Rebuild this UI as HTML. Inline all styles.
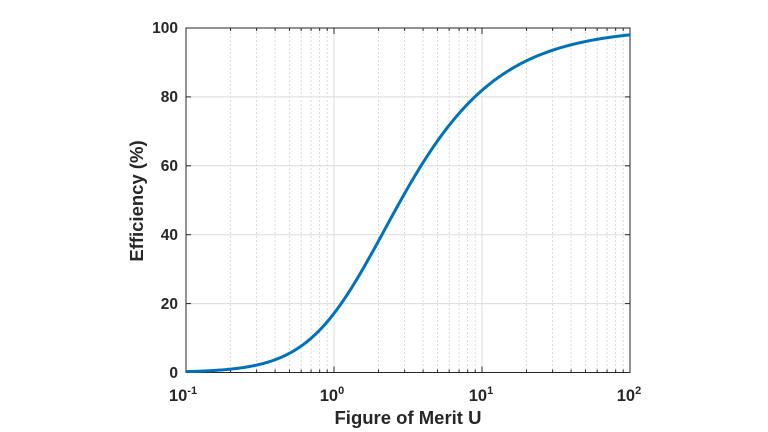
<!DOCTYPE html>
<html><head><meta charset="utf-8"><style>
html,body{margin:0;padding:0;background:#fff;}
svg{display:block;font-family:"Liberation Sans",Arial,sans-serif;font-weight:bold;}
</style></head><body>
<svg id="s" width="768" height="432" viewBox="0 0 768 432" xmlns="http://www.w3.org/2000/svg">
<g id="grid"></g>
<rect x="186" y="28" width="444" height="344.5" fill="none" stroke="#262626" stroke-width="1"/>
<g id="ticks"></g>
<path id="curve" fill="none" stroke="#0072BD" stroke-width="3" stroke-linejoin="round"/>
<g font-size="15.5" fill="#262626" text-anchor="end">
<text x="178" y="378">0</text>
<text x="178" y="309">20</text>
<text x="178" y="240">40</text>
<text x="178" y="171">60</text>
<text x="178" y="102">80</text>
<text x="178" y="33">100</text>
</g>
<g font-size="16.5" fill="#262626" text-anchor="middle">
<text x="183" y="401">10<tspan font-size="11" dy="-7">-1</tspan></text>
<text x="332" y="401">10<tspan font-size="11" dy="-7">0</tspan></text>
<text x="481" y="401">10<tspan font-size="11" dy="-7">1</tspan></text>
<text x="629" y="401">10<tspan font-size="11" dy="-7">2</tspan></text>
</g>
<text x="408" y="424" font-size="18.5" fill="#262626" text-anchor="middle">Figure of Merit U</text>
<text transform="translate(143,201) rotate(-90)" font-size="18.5" fill="#262626" text-anchor="middle">Efficiency (%)</text>
</svg>
<script>
var L=186,R=630,T=28,B=372.5,dec=(R-L)/3;
function X(u){return L+(Math.log10(u)+1)*dec;}
function Y(v){return B-(v/100)*(B-T);}
var g='',t='';
for(var d=-1;d<2;d++){for(var k=1;k<10;k++){var x=X(k*Math.pow(10,d));
 if(k==1){if(d>-1)g+='<line x1="'+x+'" y1="'+T+'" x2="'+x+'" y2="'+B+'" stroke="#dcdcdc" stroke-width="1"/>';}
 else g+='<line x1="'+x+'" y1="'+T+'" x2="'+x+'" y2="'+B+'" stroke="#d0d0d0" stroke-width="0.8" stroke-dasharray="2,2"/>';
 var len=k==1?6:3;
 t+='<line x1="'+x+'" y1="'+B+'" x2="'+x+'" y2="'+(B-len)+'" stroke="#262626"/>';
 t+='<line x1="'+x+'" y1="'+T+'" x2="'+x+'" y2="'+(T+len)+'" stroke="#262626"/>';
}}
for(var v=20;v<100;v+=20){var y=Y(v);g+='<line x1="'+L+'" y1="'+y+'" x2="'+R+'" y2="'+y+'" stroke="#dcdcdc" stroke-width="1"/>';
 t+='<line x1="'+L+'" y1="'+y+'" x2="'+(L+5)+'" y2="'+y+'" stroke="#262626"/><line x1="'+R+'" y1="'+y+'" x2="'+(R-5)+'" y2="'+y+'" stroke="#262626"/>';}
document.getElementById('grid').innerHTML=g;
document.getElementById('ticks').innerHTML=t;
var p='';
for(var i=0;i<=300;i++){var u=Math.pow(10,-1+3*i/300);var s=Math.sqrt(1+u*u)-1;var e=100*s*s/(u*u);
 p+=(i?'L':'M')+X(u).toFixed(2)+' '+Y(e).toFixed(2);}
document.getElementById('curve').setAttribute('d',p);
</script>
</body></html>
